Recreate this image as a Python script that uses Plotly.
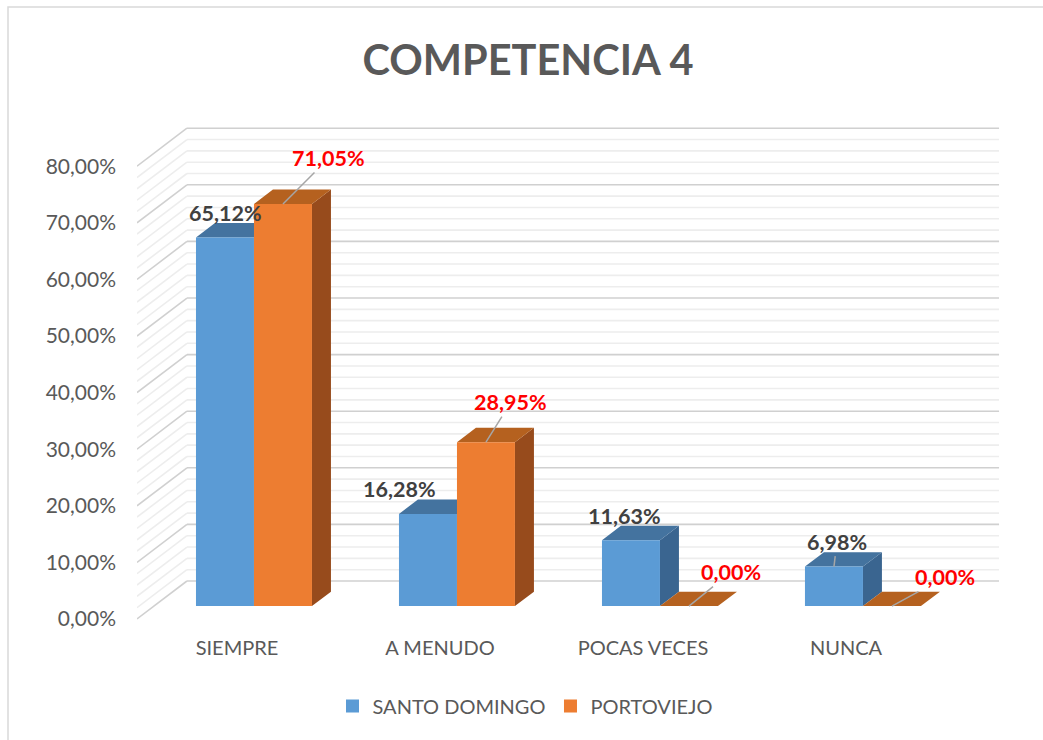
import plotly.graph_objects as go

# ---------------- data ----------------
categories = ["SIEMPRE", "A MENUDO", "POCAS VECES", "NUNCA"]
santo_domingo = [65.12, 16.28, 11.63, 6.98]
portoviejo = [71.05, 28.95, 0.00, 0.00]
series_names = ["SANTO DOMINGO", "PORTOVIEJO"]
y_ticks = [0, 10, 20, 30, 40, 50, 60, 70, 80]
title_text = "COMPETENCIA 4"

# ---------------- styling / geometry ----------------
colors = {
    "SANTO DOMINGO": {"front": "#5B9BD5", "top": "#44739F", "side": "#3A6590"},
    "PORTOVIEJO": {"front": "#ED7D31", "top": "#B5611F", "side": "#974B1C"},
}
label_colors = {"SANTO DOMINGO": "#404040", "PORTOVIEJO": "#FF0000"}
# label offsets in pixels (text centre relative to bar front-top centre)
blue_label_offsets = [(1, -25, False), (-28, -25, False), (-6, -24, False), (3, -25, True)]
orange_label_offsets = [(46, -46, True), (25, -40, True), (42, -34, True), (53, -29, True)]

DEPTH_X = 0.246   # full depth of the 3D box in category units
DEPTH_Y = 6.71    # full depth of the 3D box in value units
BAR_W = 0.2857
FRONT_D = 0.34    # depth fraction where bar fronts sit
BAR_D = 0.38      # bar depth fraction
X_LEFT, X_RIGHT = -0.4926, 3.808
Y_MIN, Y_MAX = -2.30, 89.93
TEXT = "#595959"
FONT = "Lato"

fx, fy = FRONT_D * DEPTH_X, FRONT_D * DEPTH_Y
bx, by = BAR_D * DEPTH_X, BAR_D * DEPTH_Y


def fmt(v):
    return f"{v:.2f}".replace(".", ",") + "%"


def bar_faces(xl, v):
    xr = xl + BAR_W
    x0, x1 = xl + fx, xr + fx
    b, t = fy, v + fy
    front = ([x0, x1, x1, x0, x0], [b, b, t, t, b])
    top = ([x0, x1, x1 + bx, x0 + bx, x0], [t, t, t + by, t + by, t])
    side = ([x1, x1 + bx, x1 + bx, x1, x1], [b, b + by, t + by, t, b])
    return {"front": front, "top": top, "side": side}


fig = go.Figure()

series = [("SANTO DOMINGO", santo_domingo, -BAR_W), ("PORTOVIEJO", portoviejo, 0.0)]
for name, vals, off in series:
    polys = {"side": ([], []), "top": ([], []), "front": ([], [])}
    for i, v in enumerate(vals):
        f = bar_faces(i + off, v)
        for k in polys:
            polys[k][0].extend(f[k][0] + [None])
            polys[k][1].extend(f[k][1] + [None])
    for k in ["side", "top", "front"]:
        fig.add_trace(go.Scatter(
            x=polys[k][0], y=polys[k][1], mode="lines", fill="toself",
            fillcolor=colors[name][k], line=dict(width=0, color=colors[name][k]),
            hoverinfo="skip", showlegend=False))

# legend entries
for name in series_names:
    fig.add_trace(go.Scatter(
        x=[None], y=[None], mode="markers", name=name,
        marker=dict(symbol="square", size=13, color=colors[name]["front"])))

# gridlines (back wall + side wall)
shapes = []
for v in range(0, 81, 2):
    major = v % 10 == 0
    col = "#D0D0D0" if major else "#EDEDED"
    w = 1.6
    shapes.append(dict(type="line", xref="x", yref="y", layer="below",
                       x0=X_LEFT + DEPTH_X, x1=3.754, y0=v + DEPTH_Y, y1=v + DEPTH_Y,
                       line=dict(color=col, width=w)))
    shapes.append(dict(type="line", xref="x", yref="y", layer="below",
                       x0=X_LEFT, x1=X_LEFT + DEPTH_X, y0=v, y1=v + DEPTH_Y,
                       line=dict(color=col, width=w)))
# chart border
shapes.append(dict(type="rect", xref="paper", yref="paper", layer="below",
                   x0=(8 - 137) / 873, x1=1.3, y0=-0.5, y1=(632 - 7) / 522,
                   line=dict(color="#D9D9D9", width=1.5), fillcolor="rgba(0,0,0,0)"))

# data labels
annotations = []
for i, v in enumerate(santo_domingo):
    dx, dy, arrow = blue_label_offsets[i]
    xc = i - BAR_W / 2 + fx
    yc = v + fy
    a = dict(x=xc, y=yc, xref="x", yref="y", text="<b>" + fmt(v) + "</b>",
             font=dict(family=FONT, size=21.5, color=label_colors["SANTO DOMINGO"]))
    if arrow:
        a.update(showarrow=True, ax=dx, ay=dy, arrowhead=0, arrowwidth=1.5,
                 arrowcolor="#A6A6A6", standoff=0)
    else:
        a.update(showarrow=False, xshift=dx, yshift=-dy)
    annotations.append(a)
for i, v in enumerate(portoviejo):
    dx, dy, arrow = orange_label_offsets[i]
    xc = i + BAR_W / 2 + fx
    yc = v + fy
    annotations.append(dict(x=xc, y=yc, xref="x", yref="y", text="<b>" + fmt(v) + "</b>",
                            font=dict(family=FONT, size=21.5, color=label_colors["PORTOVIEJO"]),
                            showarrow=True, ax=dx, ay=dy, arrowhead=0, arrowwidth=1.5,
                            arrowcolor="#A6A6A6", standoff=0))

fig.update_layout(
    width=1043, height=740,
    margin=dict(l=137, r=33, t=110, b=108),
    paper_bgcolor="white", plot_bgcolor="rgba(0,0,0,0)",
    font=dict(family=FONT, color=TEXT, size=20),
    title=dict(text="<b>" + title_text + "</b>", x=528 / 1043, xanchor="center",
               y=1 - 60 / 740, yanchor="middle",
               font=dict(family=FONT, size=41.5, color=TEXT)),
    xaxis=dict(range=[X_LEFT, X_RIGHT], tickvals=list(range(len(categories))),
               ticktext=categories, showgrid=False, zeroline=False, showline=False,
               ticks="", ticklabelstandoff=2, tickfont=dict(size=20, color=TEXT)),
    yaxis=dict(range=[Y_MIN, Y_MAX], tickvals=y_ticks, ticktext=[fmt(t) for t in y_ticks],
               showgrid=False, zeroline=False, showline=False, ticks="",
               ticklabelstandoff=20, tickfont=dict(size=21, color=TEXT)),
    legend=dict(orientation="h", x=(525 - 137) / 873, xanchor="center",
                y=(632 - 706) / 522, yanchor="middle",
                font=dict(size=20, color=TEXT), itemclick=False),
    shapes=shapes,
    annotations=annotations,
    showlegend=True,
)

fig.write_html("out.html", config={"displayModeBar": False},
               post_script="document.body.style.margin='0';")
